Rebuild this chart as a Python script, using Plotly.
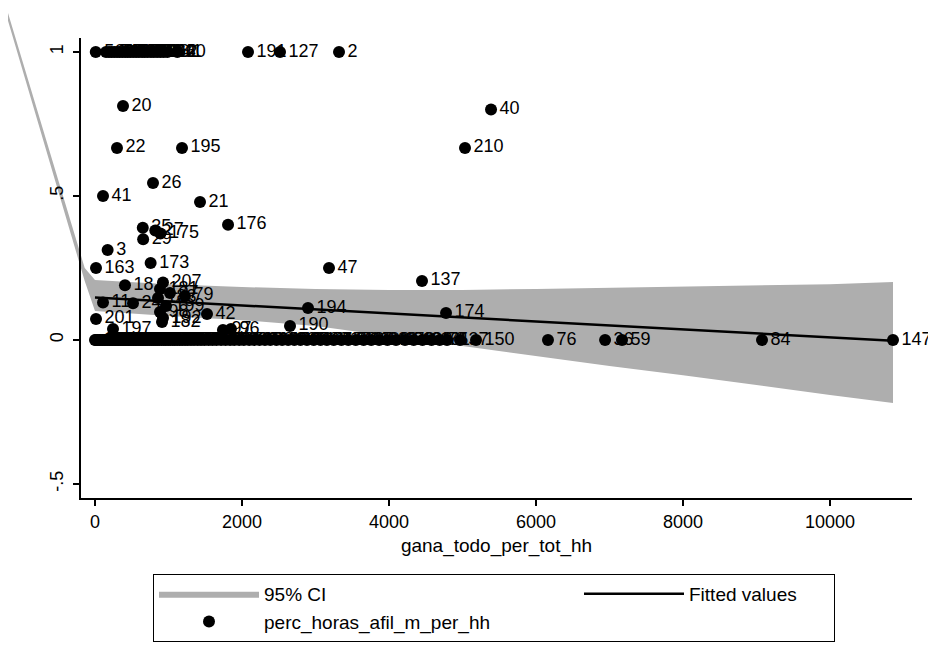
import plotly.graph_objects as go

# ---------------- data ----------------
# households with share = 1
top_id = [5, 63, 14, 71, 88, 102, 45, 116, 9, 131, 58, 149, 66, 160, 73, 171, 86, 186,
          93, 204, 112, 141, 62, 60, 191, 127, 2]
top_x = [10, 150, 190, 225, 262, 300, 335, 372, 410, 445, 480, 520, 560, 598, 640, 675,
         715, 760, 800, 845, 890, 935, 985, 1120, 2082, 2517, 3320]
top_y = [1] * len(top_id)

# households with an intermediate share
mid_id = [20, 22, 195, 26, 41, 21, 176, 35, 27, 175, 29, 3, 163, 173, 47, 137, 40, 210,
          174, 194, 190, 42, 182, 201, 197, 97, 96, 207, 18, 11, 24, 181, 77, 79, 183,
          199, 98, 192]
mid_x = [381, 299, 1184, 789, 109, 1429, 1810, 650, 820, 890, 655, 172, 14, 757, 3184,
         4449, 5388, 5034, 4776, 2898, 2653, 1524, 912, 14, 245, 1741, 1850, 925, 408,
         109, 517, 884, 1020, 1224, 857, 966, 884, 925]
mid_y = [0.8125, 0.667, 0.667, 0.545, 0.5, 0.479, 0.4, 0.39, 0.38, 0.37, 0.35, 0.3125,
         0.25, 0.267, 0.25, 0.205, 0.8, 0.667, 0.094, 0.111, 0.049, 0.09, 0.0625, 0.073,
         0.038, 0.035, 0.038, 0.2, 0.19, 0.13, 0.128, 0.177, 0.163, 0.153, 0.146, 0.118,
         0.097, 0.076]

# households with share = 0
zero_id = [1, 104, 13, 68, 120, 31, 143, 52, 7, 89, 166, 44, 115, 19, 72, 138, 55, 100,
           25, 133, 81, 4, 156, 64, 109, 39, 92, 168, 16, 124, 50, 78, 146, 33, 99, 12,
           118, 57, 85, 140, 28, 107, 70, 152, 43, 94, 123, 6, 180, 61, 113, 32, 135, 74,
           17, 101, 48, 129, 87, 15, 165, 53, 110, 30, 145, 69, 10, 126, 82, 185, 46, 103,
           23, 139, 65, 91, 157, 38, 117, 54, 170, 83, 130, 67, 108, 202, 49, 178, 90, 132,
           34, 161, 75, 8, 37, 150, 76, 36, 59, 84, 147]
zero_x = [0, 12, 35, 58, 80, 104, 126, 148, 172, 195, 214, 238, 260, 283, 305, 322, 346,
          368, 390, 412, 436, 455, 478, 502, 525, 548, 571, 596, 618, 642, 665, 688, 712,
          738, 765, 792, 818, 846, 872, 905, 936, 962, 995, 1024, 1058, 1085, 1118, 1152,
          1186, 1225, 1262, 1305, 1348, 1396, 1442, 1490, 1545, 1598, 1652, 1715, 1776,
          1838, 1895, 1962, 2025, 2098, 2165, 2238, 2312, 2385, 2468, 2546, 2628, 2712,
          2795, 2884, 2976, 3068, 3155, 3248, 3352, 3446, 3548, 3655, 3758, 3866, 3978,
          4095, 4218, 4336, 4455, 4578, 4690, 4789, 4966, 5184, 6163, 6940, 7170, 9075,
          10857]
zero_y = [0] * len(zero_id)

# linear fit and its 95% confidence band
fit_x = [0, 10857]
fit_y = [0.148, -0.003]
band_x = [-1260, -140, 0, 1000, 2000, 3000, 4000, 5000, 6000, 7000, 8000, 9000, 10000,
          10857]
band_hi = [1.2, 0.25, 0.208, 0.194, 0.184, 0.177, 0.174, 0.174, 0.177, 0.181, 0.184,
           0.188, 0.194, 0.201]
band_lo = [1.175, 0.205, 0.101, 0.083, 0.069, 0.049, 0.014, -0.021, -0.056, -0.090,
           -0.122, -0.156, -0.191, -0.219]

x_ticks = [0, 2000, 4000, 6000, 8000, 10000]
x_ticktext = ["0", "2000", "4000", "6000", "8000", "10000"]
y_ticks = [-0.5, 0, 0.5, 1]
y_ticktext = ["-.5", "0", ".5", "1"]

# ---------------- geometry (page pixels; the page body adds an 8px offset) ----------
OFF = 8
PAGE_W, PAGE_H = 936, 651
W, H = PAGE_W - OFF, PAGE_H - OFF
PX_X0, PX_PER_X = 95.0, 0.0735     # page pixel of x=0, pixels per unit
PX_Y0, PX_PER_Y = 340.0, 288.0     # page pixel of y=0, pixels per unit
L, R, T, B = 81, 912, 38, 498      # plot region, page pixels


def xval(px):
    return (px - PX_X0) / PX_PER_X


def yval(py):
    return (PX_Y0 - py) / PX_PER_Y


def fx(px):   # page x pixel -> figure paper fraction
    return (px - OFF) / W


def fy(py):   # page y pixel -> figure paper fraction
    return 1 - (py - OFF) / H


FONT = "Liberation Sans, Arial, sans-serif"

ids = top_id + mid_id + zero_id
xs = top_x + mid_x + zero_x
ys = top_y + mid_y + zero_y

fig = go.Figure()

# CI band on a full-figure axis pair so it can spill outside the plot region
fig.add_trace(go.Scatter(
    x=band_x + band_x[::-1], y=band_hi + band_lo[::-1],
    fill="toself", fillcolor="#aeaeae", mode="lines", line=dict(width=0, color="#aeaeae"),
    name="95% CI", xaxis="x", yaxis="y", hoverinfo="skip", legendwidth=310))

fig.add_trace(go.Scatter(
    x=fit_x, y=fit_y, mode="lines", line=dict(color="black", width=2.5),
    name="Fitted values", xaxis="x2", yaxis="y2", legendwidth=140))

fig.add_trace(go.Scatter(
    x=xs, y=ys, mode="markers+text", text=[str(i) for i in ids],
    textposition="middle right", cliponaxis=False,
    marker=dict(color="black", size=12),
    textfont=dict(family=FONT, size=18, color="black"),
    name="perc_horas_afil_m_per_hh", xaxis="x2", yaxis="y2", legendwidth=250))

fig.update_layout(
    width=W, height=H,
    margin=dict(l=0, r=0, t=0, b=0, pad=0),
    paper_bgcolor="white", plot_bgcolor="rgba(0,0,0,0)",
    font=dict(family=FONT, color="black"),
    showlegend=True,
    xaxis=dict(domain=[0, 1], range=[xval(OFF), xval(PAGE_W)], visible=False,
               anchor="y", fixedrange=True),
    yaxis=dict(domain=[0, 1], range=[yval(PAGE_H), yval(OFF)], visible=False,
               anchor="x", fixedrange=True),
    xaxis2=dict(domain=[fx(L), fx(R)], anchor="y2", range=[xval(L), xval(R)],
                tickvals=x_ticks, ticktext=x_ticktext, ticks="outside", ticklen=6,
                tickwidth=1.5, tickcolor="black", showline=True, linecolor="black",
                linewidth=2, showgrid=False, zeroline=False, automargin=False,
                tickfont=dict(size=18, family=FONT, color="black"),
                title=dict(text="gana_todo_per_tot_hh", standoff=8,
                           font=dict(size=19, family=FONT, color="black"))),
    yaxis2=dict(domain=[fy(B), fy(T)], anchor="x2", range=[yval(B), yval(T)],
                tickvals=y_ticks, ticktext=y_ticktext, tickangle=-90,
                ticks="outside", ticklen=6, tickwidth=1.5, tickcolor="black",
                showline=True, linecolor="black", linewidth=2, ticklabelstandoff=3,
                showgrid=False, zeroline=False, automargin=False,
                tickfont=dict(size=18, family=FONT, color="black")),
    legend=dict(x=fx(153), y=fy(574), xanchor="left", yanchor="top",
                orientation="h", bordercolor="black", borderwidth=1,
                bgcolor="white", entrywidthmode="pixels",
                itemwidth=100, traceorder="normal",
                font=dict(size=19, family=FONT, color="black")),
)

fig.write_html("out.html")
